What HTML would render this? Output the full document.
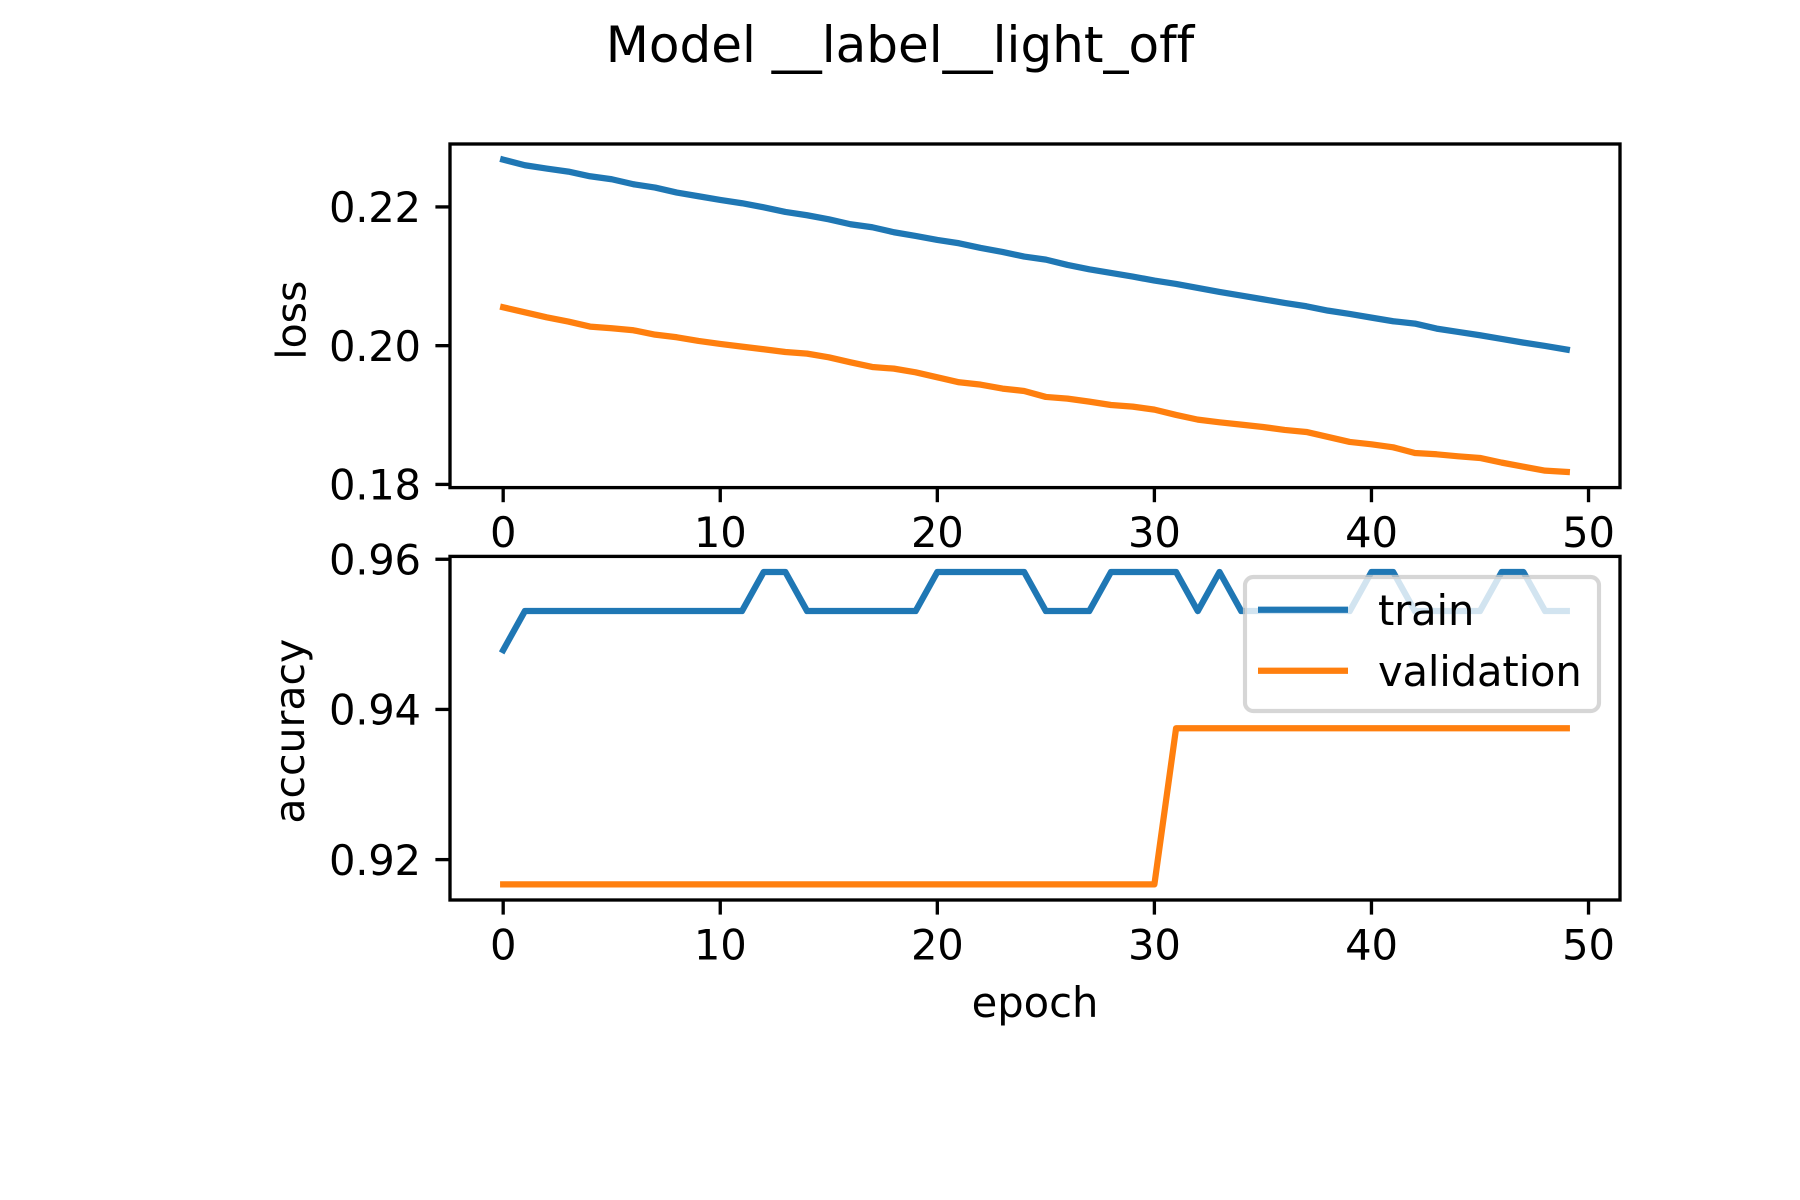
<!DOCTYPE html>
<html lang="en">
<head>
<meta charset="utf-8">
<title>Model __label__light_off</title>
<style>
  html, body { margin: 0; padding: 0; background: #fff; }
  svg { display: block; }
  text { font-family: "DejaVu Sans", "Liberation Sans", sans-serif; fill: #000; font-variant-ligatures: none; }
</style>
</head>
<body>
<svg id="chart" xmlns="http://www.w3.org/2000/svg" width="1800" height="1200" viewBox="0 0 1800 1200">
  <rect x="0" y="0" width="1800" height="1200" fill="#fff"/>
  <text x="900" y="62" font-size="50" text-anchor="middle">Model __label__light_off</text>

  <g id="loss-panel">
    <g id="loss-lines"></g>
    <g id="loss-ticks"></g>
    <rect x="450" y="144" width="1170" height="343.6" fill="none" stroke="#000" stroke-width="3.33"/>
    <text transform="translate(305.5 320.2) rotate(-90)" font-size="41" text-anchor="middle">loss</text>
  </g>

  <g id="accuracy-panel">
    <g id="accuracy-lines"></g>
    <g id="accuracy-ticks"></g>
    <rect x="450" y="556.4" width="1170" height="343.6" fill="none" stroke="#000" stroke-width="3.33"/>
    <text transform="translate(304 731.2) rotate(-90)" font-size="41" text-anchor="middle">accuracy</text>
    <text x="1035" y="1017" font-size="41.67" text-anchor="middle">epoch</text>
  </g>

  <g>
    <rect x="1245" y="577" width="354" height="134" rx="8.3" ry="8.3" fill="#fff" fill-opacity="0.8" stroke="#ccc" stroke-opacity="0.8" stroke-width="4.17"/>
    <g>
      <line x1="1258" y1="609.7" x2="1348" y2="609.7" stroke="#1f77b4" stroke-width="6.25"/>
      <text x="1378" y="625" font-size="41.67" letter-spacing="-0.15">train</text>
    </g>
    <g>
      <line x1="1258" y1="670.7" x2="1348" y2="670.7" stroke="#ff7f0e" stroke-width="6.25"/>
      <text x="1378" y="686" font-size="41.67" letter-spacing="-0.15">validation</text>
    </g>
  </g>
</svg>

<script>
const epochs = [0,1,2,3,4,5,6,7,8,9,10,11,12,13,14,15,16,17,18,19,20,21,22,23,24,25,26,27,28,29,30,31,32,33,34,35,36,37,38,39,40,41,42,43,44,45,46,47,48,49];
const lossTrain = [0.22682,0.22601,0.22553,0.22509,0.22442,0.22399,0.22327,0.22279,0.22207,0.22154,0.22101,0.22053,0.21995,0.21928,0.2188,0.21822,0.2175,0.21707,0.21635,0.21582,0.21524,0.21476,0.21409,0.21351,0.21284,0.21240,0.21164,0.21101,0.21048,0.20996,0.20938,0.2089,0.20832,0.20774,0.20722,0.20669,0.20616,0.20568,0.20505,0.20457,0.20404,0.20352,0.20318,0.20246,0.20198,0.2015,0.20097,0.20044,0.19996,0.19943];
const lossValidation = [0.20553,0.20481,0.20409,0.20347,0.20275,0.20251,0.20222,0.20159,0.20121,0.20068,0.20025,0.19986,0.19948,0.19909,0.19885,0.19832,0.1976,0.19693,0.19669,0.19616,0.19544,0.19472,0.19438,0.19381,0.19347,0.19261,0.19237,0.19193,0.19145,0.19121,0.19078,0.19001,0.18934,0.18895,0.18862,0.18828,0.18785,0.18756,0.18684,0.18612,0.18578,0.18535,0.18453,0.18434,0.18405,0.18381,0.18314,0.18256,0.18198,0.18179];
const accuracyTrain = [0.9479,0.9531,0.9531,0.9531,0.9531,0.9531,0.9531,0.9531,0.9531,0.9531,0.9531,0.9531,0.9583,0.9583,0.9531,0.9531,0.9531,0.9531,0.9531,0.9531,0.9583,0.9583,0.9583,0.9583,0.9583,0.9531,0.9531,0.9531,0.9583,0.9583,0.9583,0.9583,0.9531,0.9583,0.9531,0.9531,0.9531,0.9531,0.9531,0.9531,0.9583,0.9583,0.9531,0.9531,0.9531,0.9531,0.9583,0.9583,0.9531,0.9531];
const accuracyValidation = [0.9167,0.9167,0.9167,0.9167,0.9167,0.9167,0.9167,0.9167,0.9167,0.9167,0.9167,0.9167,0.9167,0.9167,0.9167,0.9167,0.9167,0.9167,0.9167,0.9167,0.9167,0.9167,0.9167,0.9167,0.9167,0.9167,0.9167,0.9167,0.9167,0.9167,0.9167,0.9375,0.9375,0.9375,0.9375,0.9375,0.9375,0.9375,0.9375,0.9375,0.9375,0.9375,0.9375,0.9375,0.9375,0.9375,0.9375,0.9375,0.9375,0.9375];
const xTickValues = [0,10,20,30,40,50];
const lossTickValues = [0.18,0.20,0.22];
const lossTickLabels = ["0.18","0.20","0.22"];
const accuracyTickValues = [0.92,0.94,0.96];
const accuracyTickLabels = ["0.92","0.94","0.96"];

const NS = "http://www.w3.org/2000/svg";
const plotLeft = 450, plotRight = 1620;
const lossTop = 144, lossBottom = 487.6;
const accTop = 556.4, accBottom = 900;
const xDomain = [-2.45, 51.45];
const lossDomain = [0.17954, 0.22907];
const accDomain = [0.91462, 0.96038];

function xScale(v) {
  return plotLeft + (v - xDomain[0]) / (xDomain[1] - xDomain[0]) * (plotRight - plotLeft);
}
function yLoss(v) {
  return lossBottom - (v - lossDomain[0]) / (lossDomain[1] - lossDomain[0]) * (lossBottom - lossTop);
}
function yAccuracy(v) {
  return accBottom - (v - accDomain[0]) / (accDomain[1] - accDomain[0]) * (accBottom - accTop);
}

function drawSeries(parent, values, yFn, color, name) {
  const line = document.createElementNS(NS, "polyline");
  
  
  const pts = values.map(function (v, i) {
    return xScale(epochs[i]).toFixed(2) + "," + yFn(v).toFixed(2);
  });
  line.setAttribute("points", pts.join(" "));
  line.setAttribute("fill", "none");
  line.setAttribute("stroke", color);
  line.setAttribute("stroke-width", "6.25");
  line.setAttribute("stroke-linejoin", "round");
  line.setAttribute("stroke-linecap", "square");
  parent.appendChild(line);
}

function drawXTicks(parent, axisBottom, labelBaseline) {
  xTickValues.forEach(function (v) {
    const x = xScale(v);
    const tick = document.createElementNS(NS, "line");
    
    
    tick.setAttribute("x1", x);
    tick.setAttribute("x2", x);
    tick.setAttribute("y1", axisBottom);
    tick.setAttribute("y2", axisBottom + 14.6);
    tick.setAttribute("stroke", "#000");
    tick.setAttribute("stroke-width", "3.33");
    parent.appendChild(tick);
    const label = document.createElementNS(NS, "text");
    
    
    label.setAttribute("x", x);
    label.setAttribute("y", labelBaseline);
    label.setAttribute("font-size", "41.67");
    label.setAttribute("letter-spacing", "-0.15");
    label.setAttribute("text-anchor", "middle");
    label.textContent = String(v);
    parent.appendChild(label);
  });
}

function drawYTicks(parent, values, labels, yFn) {
  values.forEach(function (v, i) {
    const y = yFn(v);
    const tick = document.createElementNS(NS, "line");
    
    
    tick.setAttribute("x1", plotLeft - 14.6);
    tick.setAttribute("x2", plotLeft);
    tick.setAttribute("y1", y);
    tick.setAttribute("y2", y);
    tick.setAttribute("stroke", "#000");
    tick.setAttribute("stroke-width", "3.33");
    parent.appendChild(tick);
    const label = document.createElementNS(NS, "text");
    
    
    label.setAttribute("x", plotLeft - 29.2);
    label.setAttribute("y", y + 15.2);
    label.setAttribute("font-size", "41.67");
    label.setAttribute("letter-spacing", "-0.25");
    label.setAttribute("text-anchor", "end");
    label.textContent = labels[i];
    parent.appendChild(label);
  });
}

const lossLines = document.getElementById("loss-lines");
const accuracyLines = document.getElementById("accuracy-lines");
const lossTicks = document.getElementById("loss-ticks");
const accuracyTicks = document.getElementById("accuracy-ticks");

drawSeries(lossLines, lossTrain, yLoss, "#1f77b4", "loss-train-line");
drawSeries(lossLines, lossValidation, yLoss, "#ff7f0e", "loss-validation-line");
drawSeries(accuracyLines, accuracyTrain, yAccuracy, "#1f77b4", "accuracy-train-line");
drawSeries(accuracyLines, accuracyValidation, yAccuracy, "#ff7f0e", "accuracy-validation-line");

drawXTicks(lossTicks, lossBottom, 546.8);
drawXTicks(accuracyTicks, accBottom, 959.4);
drawYTicks(lossTicks, lossTickValues, lossTickLabels, yLoss);
drawYTicks(accuracyTicks, accuracyTickValues, accuracyTickLabels, yAccuracy);
</script>
</body>
</html>
